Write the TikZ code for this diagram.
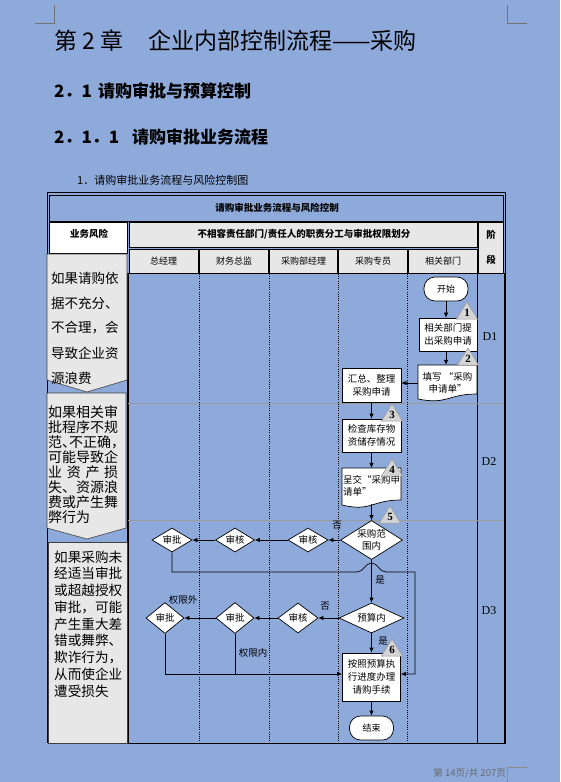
\documentclass[tikz,border=0pt]{standalone}
\usepackage{fontspec}
\newfontfamily\cjk{Noto Sans CJK SC}
\newfontfamily\cjkhalt[RawFeature=+halt]{Noto Sans CJK SC}
\newfontfamily\ser{Liberation Serif}
\usetikzlibrary{shapes.geometric,arrows.meta}
\definecolor{bg}{RGB}{142,170,219}
\definecolor{cellgray}{RGB}{231,231,231}
\definecolor{trifill}{RGB}{212,212,212}
\definecolor{triline}{RGB}{150,150,150}
\definecolor{phase}{RGB}{155,155,155}
\definecolor{foot}{RGB}{105,105,105}
\newcommand{\fsz}[2]{\fontsize{#1}{#2}\selectfont}
\newcommand{\numtri}[4]{%
  \filldraw[numtri] (#1,#2) -- (#1+10.5,#2+17) -- (#1-10.5,#2+17) -- cycle;
  \node[num] (#4) at (#1,#2+11) {#3};}
\begin{document}
\begin{tikzpicture}[x=1pt,y=-1pt,
  proc/.style={draw, fill=white, line width=0.7pt, align=center, inner sep=0pt, font=\cjk\fsz{9.5}{13}},
  term/.style={draw, fill=white, rounded corners=11pt, line width=0.7pt, inner sep=0pt, minimum width=44pt, minimum height=24pt, font=\cjk\fsz{9}{11}},
  dec/.style={diamond, draw, fill=white, line width=0.7pt, inner sep=0pt, shape aspect=1.6, align=center, font=\cjk\fsz{9.5}{11.5}},
  doctxt/.style={inner sep=0pt, align=center, font=\cjk\fsz{9.5}{12}},
  docshape/.style={draw, fill=white, line width=0.7pt},
  arr/.style={-{Latex[length=5pt,width=4.5pt]}, line width=0.7pt},
  ln/.style={line width=0.7pt},
  lbl/.style={inner sep=0pt, font=\cjk\fsz{9.5}{11}},
  cell/.style={draw, line width=0.8pt, fill=cellgray},
  hdr/.style={inner sep=0pt, font=\cjk\bfseries\fsz{9.5}{11}},
  subhdr/.style={inner sep=0pt, font=\cjk\fsz{9}{11}},
  riskbox/.style={fill=cellgray, draw=black!75, line width=0.6pt},
  numtri/.style={fill=trifill, draw=triline, line width=0.5pt},
  num/.style={inner sep=0pt, font=\ser\bfseries\fsz{11}{12}},
  stage/.style={inner sep=0pt, font=\ser\fsz{12}{13}},
  lane/.style={dash pattern=on 1pt off 1.2pt, line width=0.6pt},
]
\fill[bg] (0,0) rectangle (560,782);
\useasboundingbox (0,0) rectangle (560,782);

% corner marks
\draw[line width=0.6pt, black!55] (54,5) -- (54,23) -- (35,23);
\draw[line width=0.6pt, black!55] (507,5) -- (507,23) -- (527,23);
\draw[line width=0.6pt, black!45] (507,782) -- (507,767) -- (527,767);

% headings
\node[anchor=west, inner sep=0pt, font=\cjk\fsz{23}{25}] (title1) at (54,41) {第 2 章};
\node[anchor=west, inner sep=0pt, font=\cjk\fsz{23}{25}] (title2) at (148,41) {企业内部控制流程——采购};
\node[anchor=west, inner sep=0pt, font=\cjk\bfseries\fsz{17}{19}] (h1a) at (54,91) {2．1};
\node[anchor=west, inner sep=0pt, font=\cjk\bfseries\fsz{17}{19}] (h1b) at (98,91) {请购审批与预算控制};
\node[anchor=west, inner sep=0pt, font=\cjk\bfseries\fsz{17}{19}] (h2a) at (54,137) {2．1．1};
\node[anchor=west, inner sep=0pt, font=\cjk\bfseries\fsz{17}{19}] (h2b) at (132,137) {请购审批业务流程};
\node[anchor=west, inner sep=0pt, font=\cjk\fsz{11}{13}] (cap) at (77,180) {1．请购审批业务流程与风险控制图};

% table frame
\draw[line width=0.8pt] (47.5,743) -- (47.5,192.5) -- (505.5,192.5) -- (505.5,743);
\draw[line width=1pt, fill=bg] (49.5,195) rectangle (503.5,221);
\node[hdr] (ttl) at (277,208) {请购审批业务流程与风险控制};
\draw[line width=0.8pt, fill=white] (49.5,222) rectangle (127,253);
\node[hdr] (riskhdr) at (89,234) {业务风险};
\draw[cell] (129,222) rectangle (477,247.5);
\node[hdr] (dutyhdr) at (304,234) {不相容责任部门/责任人的职责分工与审批权限划分};
\draw[cell] (129,249) rectangle (198,273);
\draw[cell] (199.5,249) rectangle (268,273);
\draw[cell] (269.5,249) rectangle (337,273);
\draw[cell] (338.5,249) rectangle (407,273);
\draw[cell] (408.5,249) rectangle (477,273);
\node[subhdr] (s1) at (163.5,261) {总经理};
\node[subhdr] (s2) at (234,261) {财务总监};
\node[subhdr] (s3) at (303.5,261) {采购部经理};
\node[subhdr] (s4) at (373,261) {采购专员};
\node[subhdr] (s5) at (443,261) {相关部门};
\draw[cell] (478.5,222) rectangle (503.5,273);
\node[hdr] (st1) at (491,235) {阶};
\node[hdr] (st2) at (491,260) {段};

% body grid
\draw[line width=1.2pt] (128,273) -- (128,743);
\draw[line width=0.8pt] (477,273) -- (477,743);
\draw[line width=0.8pt] (504,273) -- (504,743);
\foreach \x in {199,269,338,407} \draw[lane] (\x,274) -- (\x,743);
\draw[phase, line width=0.8pt] (128,403.5) -- (504,403.5);
\draw[phase, line width=0.8pt] (128,520.5) -- (504,520.5);
\draw[line width=1pt] (47.5,743) -- (505.5,743);
\node[stage] (D1) at (490,337) {D1};
\node[stage] (D2) at (489,462) {D2};
\node[stage] (D3) at (489,611) {D3};

% risk boxes
\draw[riskbox] (47,254) -- (127,254) -- (127,380) -- (87,392) -- (47,380) -- cycle;
\foreach \t [count=\i] in {如果请购依,据不充分、,不合理，会,导致企业资,源浪费}
  \node[anchor=west, inner sep=0pt, font=\cjk\fsz{13.5}{15}] (ra\i) at (51,278+25*\i-25) {\t};
\draw[riskbox] (47,393) -- (126,393) -- (126,528) -- (87,539) -- (47,528) -- cycle;
\foreach \t [count=\i] in {如果相关审,批程序不规,{\cjkhalt 范、不正确，},可能导致企,{\makebox[70pt][s]{业 资 产 损}},失、资源浪,费或产生舞,弊行为}
  \node[anchor=west, inner sep=0pt, font=\cjk\fsz{14}{15}] (rb\i) at (48,412+15*\i-15) {\t};
\draw[riskbox] (48,542) rectangle (127,743);
\foreach \t [count=\i] in {如果采购未,经适当审批,或超越授权,审批，可能,产生重大差,错或舞弊、,欺诈行为，,从而使企业,遭受损失}
  \node[anchor=west, inner sep=0pt, font=\cjk\fsz{13.6}{15}] (rc\i) at (54,557+16.75*\i-16.75) {\t};

% flow nodes
\node[term] (start) at (446,289) {开始};
\node[proc, minimum width=58pt, minimum height=33pt] (b1) at (448,334.5) {相关部门提\\出采购申请};
\draw[docshape] (418,365) -- (477,365) -- (477,394) .. controls (447.5,394) and (447.5,405) .. (418,399) -- cycle;
\node[doctxt, minimum width=59pt, minimum height=36pt] (d1) at (447.5,383) {填写 “采购\\申请单”};
\node[proc, minimum width=59pt, minimum height=34pt] (b2) at (371.5,385) {汇总、整理\\采购申请};
\node[proc, minimum width=59pt, minimum height=33pt] (b3) at (371.5,435.5) {检查库存物\\资储存情况};
\draw[docshape] (342,468) -- (401,468) -- (401,500) .. controls (371.5,500) and (371.5,512) .. (342,505) -- cycle;
\node[doctxt, align=left, minimum width=59pt, minimum height=36pt] (d2) at (371.5,486) {呈交“采购申\\请单”};
\node[dec, minimum width=62pt, minimum height=39pt] (dm1) at (371.5,540) {采购范\\围内};
\node[dec, minimum width=40pt, minimum height=24pt] (dm2) at (308,540) {审核};
\node[dec, minimum width=39pt, minimum height=24pt] (dm3) at (235,540) {审核};
\node[dec, minimum width=40pt, minimum height=24pt] (dm4) at (172,540) {审批};
\node[dec, minimum width=65pt, minimum height=30pt] (dm5) at (371.5,618) {预算内};
\node[dec, minimum width=40pt, minimum height=30pt] (dm6) at (298,618) {审核};
\node[dec, minimum width=38pt, minimum height=31pt] (dm7) at (235,618) {审批};
\node[dec, minimum width=38pt, minimum height=31pt] (dm8) at (165,618) {审批};
\node[proc, minimum width=58pt, minimum height=48pt] (fb) at (371.5,677) {按照预算执\\行进度办理\\请购手续};
\node[term] (end) at (371.5,728) {结束};

% connectors
\draw[arr] (start.south) -- (start.south |- b1.north);
\draw[arr] (b1.south -| start.south) -- (d1.north -| start.south);
\draw[arr] (d1.west) -- (d1.west -| b2.east);
\draw[arr] (b2.south) -- (b3.north);
\draw[arr] (b3.south) -- (d2.north);
\draw[arr] (d2.south) -- (dm1.north);
\draw[arr] (dm1.west) -- (dm2.east);
\draw[arr] (dm2.west) -- (dm3.east);
\draw[arr] (dm3.west) -- (dm4.east);
\draw[arr] (dm4.south) -- (172,572) -- (357,572) .. controls (364,572) and (365,563) .. (371.5,563) .. controls (378,563) and (379,572) .. (386,572) -- (415,572) -- (415,674) -- ([yshift=3pt]fb.east);
\draw[arr] (dm1.south) -- (dm5.north);
\draw[arr] (dm5.west) -- (dm6.east);
\draw[arr] (dm6.west) -- (dm7.east);
\draw[arr] (dm7.west) -- (dm8.east);
\draw[arr] (dm8.south) -- (165,674) -- ([yshift=3pt]fb.west);
\draw[ln] (dm7.south) -- (235,674);
\draw[arr] (dm5.south) -- (fb.north);
\draw[arr] (fb.south) -- (end.north);

% triangles
\numtri{467}{302}{1}{t1}
\numtri{468}{348}{2}{t2}
\numtri{392}{404}{3}{t3}
\numtri{392}{459}{4}{t4}
\numtri{390}{506}{5}{t5}
\numtri{392}{639}{6}{t6}

% labels
\node[lbl] (no1) at (337,525) {否};
\node[lbl] (yes1) at (380,580) {是};
\node[lbl] (no2) at (325,606) {否};
\node[lbl] (out) at (183,600) {权限外};
\node[lbl] (in) at (253,653) {权限内};
\node[lbl] (yes2) at (383,641) {是};

% footer
\node[anchor=east, inner sep=0pt, font=\cjk\fsz{9.5}{11}, text=foot] (foot) at (506,773) {第 14页/共 207页};
\end{tikzpicture}
\end{document}
